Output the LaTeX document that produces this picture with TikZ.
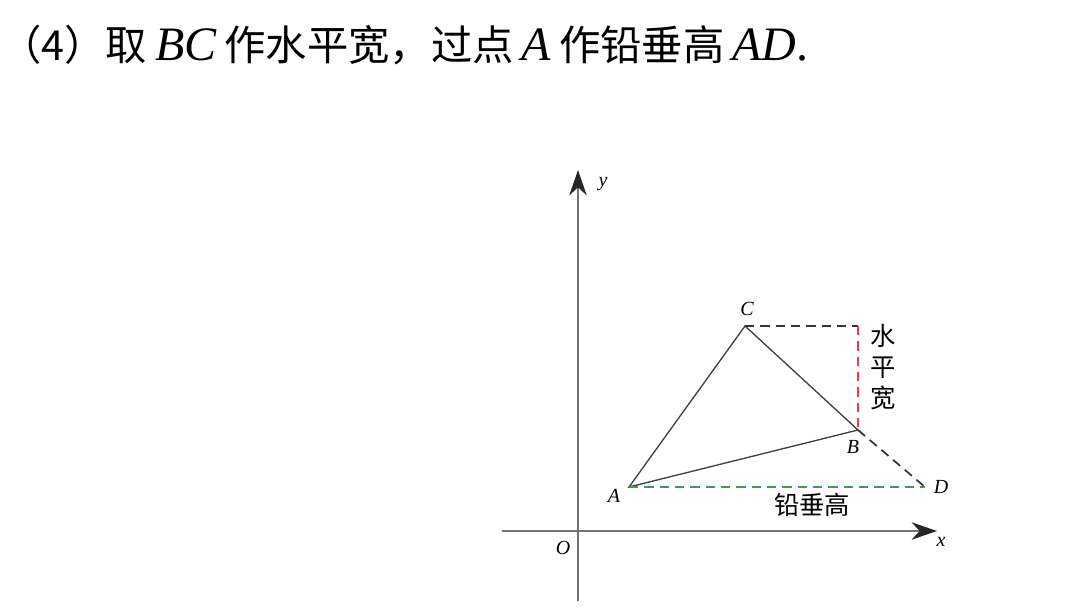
\documentclass[tikz,border=0pt]{standalone}
\usepackage{fontspec}
\setmainfont{Liberation Serif}
\newfontfamily\cjk{Noto Sans CJK SC}
\usetikzlibrary{arrows.meta}

\tikzset{
  axis/.style={draw=black!55, line width=1.7pt, -{Stealth[length=19pt,width=13pt,inset=6pt,color=black!85]}},
  edge/.style={draw=black!75, line width=1pt},
  dashline/.style={line width=1.3pt, dash pattern=on 7pt off 4.5pt},
  ptlabel/.style={font=\fontsize{15}{15}\selectfont\itshape, inner sep=1pt},
  zhlabel/.style={font=\cjk\fontsize{19}{23}\selectfont, inner sep=0pt}
}
\definecolor{widthred}{RGB}{232,64,64}
\definecolor{heightgreen}{RGB}{60,160,60}
\newcommand{\latin}[1]{\hspace{6pt}{\rmfamily\itshape\fontsize{36}{36}\selectfont #1}}

\begin{document}
\begin{tikzpicture}[x=0.75pt, y=-0.75pt]
        \useasboundingbox (0,0) rectangle (1080,616);

        % title
        \node[anchor=base west, inner sep=0pt, font=\cjk\fontsize{31}{33}\selectfont] (title) at (0,61)
          {（4）取\latin{BC}\hspace{6pt}作水平宽，过点\latin{A}\hspace{6pt}作铅垂高\latin{AD}{\rmfamily\fontsize{36}{36}\selectfont.}};

        % axes
        \coordinate (O) at (578,531);
        \coordinate (xs) at (502,531);
        \coordinate (xe) at (937,531);
        \coordinate (ys) at (578,601);
        \coordinate (ye) at (578,170);
        \draw[axis] (xs) -- (xe);
        \draw[axis] (ys) -- (ye);
        \node[ptlabel] (xlab) at (941,542) {x};
        \node[ptlabel] (ylab) at (603,184) {y};
        \node[ptlabel] (olab) at (563,548) {O};

        % points
        \coordinate (A) at (629,487);
        \coordinate (B) at (858,430);
        \coordinate (C) at (745,326);
        \coordinate (D) at (925,487);
        \coordinate (E) at (858,326);

        \node[ptlabel] (alab) at (614,496) {A};
        \node[ptlabel] (blab) at (853,447) {B};
        \node[ptlabel] (clab) at (747,309) {C};
        \node[ptlabel] (dlab) at (941,487) {D};

        % triangle
        \draw[edge] (A) -- (B) -- (C) -- cycle;

        % dashed helpers
        \draw[dashline, black!80] (C) -- (E);
        \draw[dashline, widthred] (E) -- (B);
        \draw[dashline, black!80] (B) -- (D);
        \draw[dashline, heightgreen] (A) -- (D);

        \node[zhlabel, align=center] (wlab) at (883,367) {水\\平\\宽};
        \node[zhlabel] (hlab) at (812,505) {铅垂高};
      \end{tikzpicture}
\end{document}
